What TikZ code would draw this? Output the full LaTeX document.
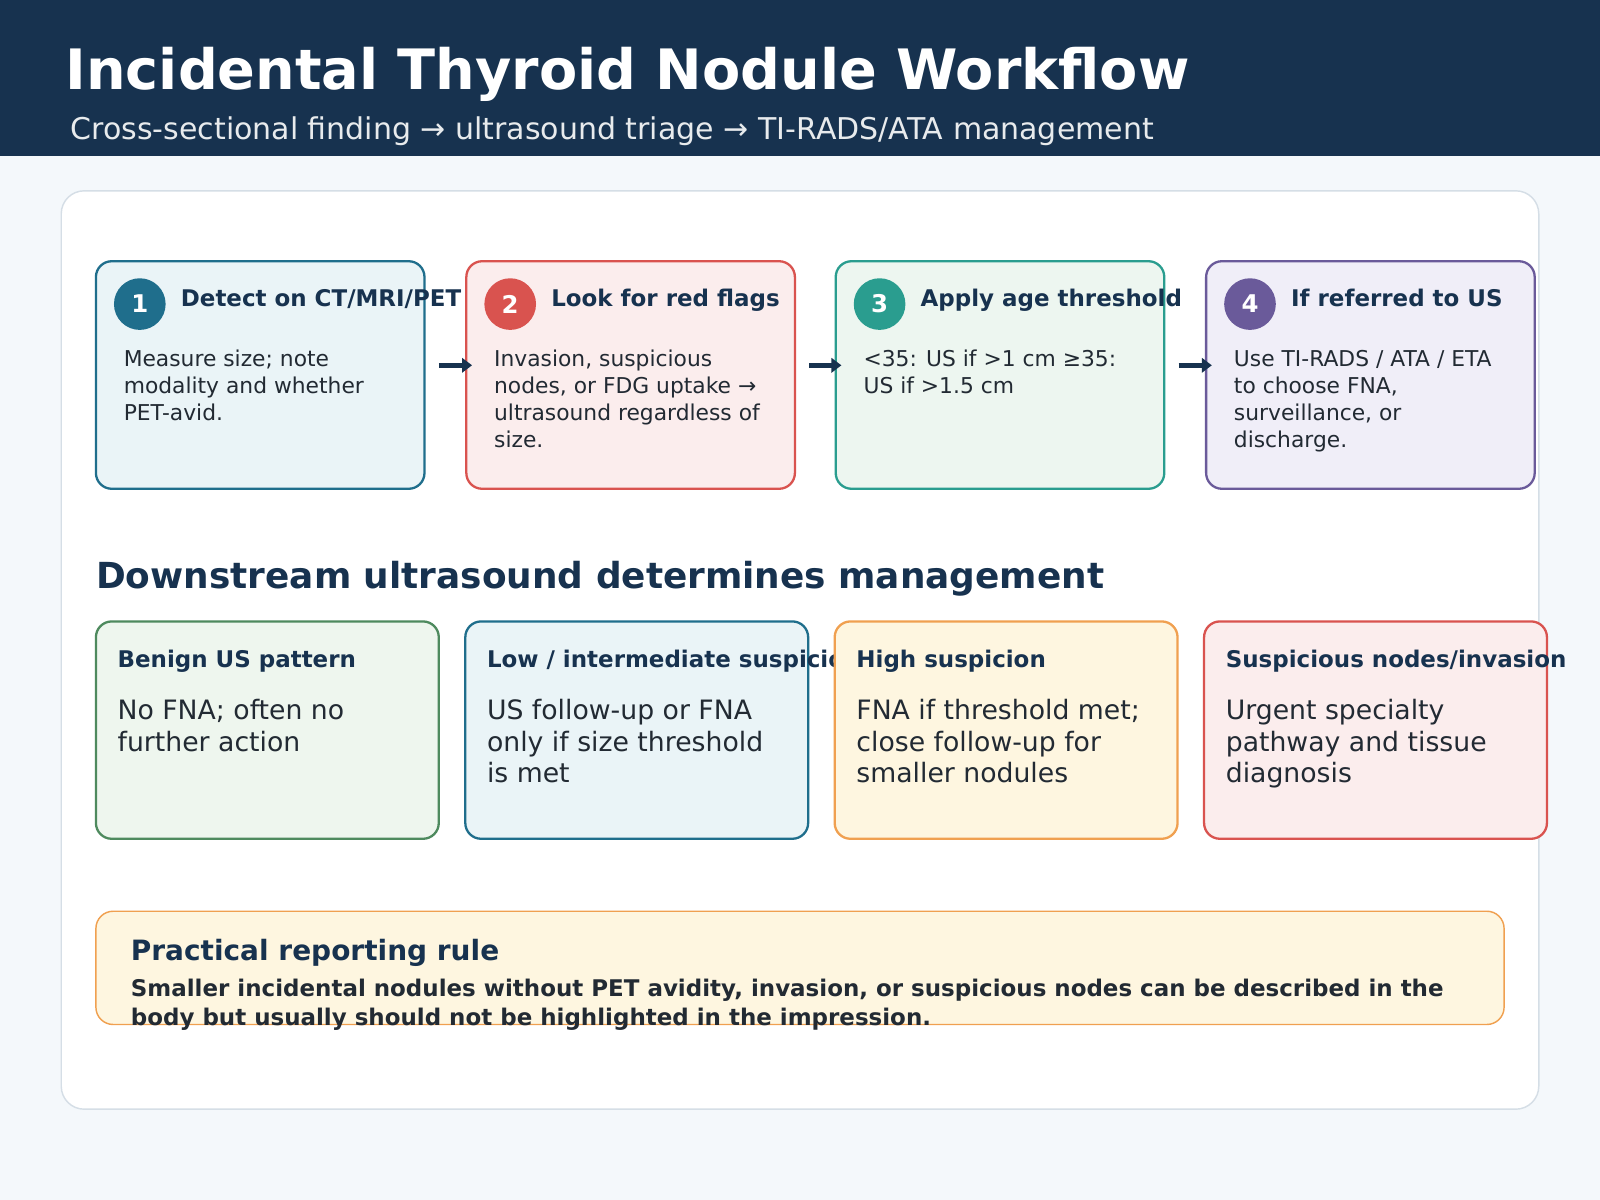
\documentclass[tikz,border=0pt]{standalone}
\usepackage{fontspec}
\setmainfont{DejaVu Sans}
\usetikzlibrary{positioning}
\usetikzlibrary{arrows.meta}
\definecolor{navy}{HTML}{17324F}
\definecolor{pagebg}{HTML}{F4F8FB}
\definecolor{panelline}{HTML}{D5DEE6}
\definecolor{ink}{HTML}{222A33}
\definecolor{cblue}{HTML}{1F6E8C}\definecolor{fblue}{HTML}{EAF4F7}
\definecolor{cred}{HTML}{D9534F}\definecolor{fred}{HTML}{FBEDED}
\definecolor{cteal}{HTML}{2A9D8F}\definecolor{fteal}{HTML}{EDF6F0}
\definecolor{cpurple}{HTML}{6A5A9A}\definecolor{fpurple}{HTML}{F0EEF8}
\definecolor{cgreen}{HTML}{4E8A5E}\definecolor{fgreen}{HTML}{EEF6EE}
\definecolor{corange}{HTML}{F0A050}\definecolor{forange}{HTML}{FEF6E0}
\tikzset{
  card/.style={draw=#1, line width=1.6pt, rounded corners=11pt, inner sep=0pt},
  badge/.style={circle, fill=#1, minimum size=36pt, inner sep=0pt, text=white, font=\bfseries\fontsize{17}{20}\selectfont},
  steptitle/.style={anchor=base west, inner sep=0pt, text=navy, font=\bfseries\fontsize{16}{19}\selectfont},
  stepbody/.style={anchor=north west, inner sep=0pt, align=left, text=ink, font=\fontsize{15.2}{18.8}\selectfont},
  outtitle/.style={anchor=base west, inner sep=0pt, text=navy, font=\bfseries\fontsize{16}{19}\selectfont},
  outbody/.style={anchor=north west, inner sep=0pt, align=left, text=ink, font=\fontsize{18.6}{22}\selectfont},
  flow/.style={-{Triangle[length=7pt,width=10pt]}, line width=3.5pt, draw=navy}
}
\begin{document}
\begin{tikzpicture}[x=0.025cm, y=-0.025cm]
  \useasboundingbox (0,0) rectangle (1568,1176);
  \fill[pagebg] (0,0) rectangle (1568,1176);
  \fill[navy] (0,0) rectangle (1568,153);
  \node[anchor=base west, inner sep=0pt, text=white, font=\bfseries\fontsize{38.8}{42}\selectfont] (title) at (64,88) {Incidental Thyroid Nodule Workflow};
  \node[anchor=base west, inner sep=0pt, text=white!90!navy, font=\fontsize{20.9}{24}\selectfont] (subtitle) at (69,137) {Cross-sectional finding → ultrasound triage → TI-RADS/ATA management};
  \draw[panelline, fill=white, line width=1pt, rounded corners=16pt] (60,187) rectangle (1508,1087);

  % steps
  \foreach \i/\x/\c/\f/\ttl/\txt in {
    1/94/cblue/fblue/{Detect on CT/MRI/PET}/{Measure size; note\\modality and whether\\PET-avid.},
    2/457/cred/fred/{Look for red flags}/{Invasion, suspicious\\nodes, or FDG uptake →\\ultrasound regardless of\\size.},
    3/819/cteal/fteal/{Apply age threshold}/{<35: US if >1 cm ≥35:\\US if >1.5 cm},
    4/1182/cpurple/fpurple/{If referred to US}/{Use TI-RADS / ATA / ETA\\to choose FNA,\\surveillance, or\\discharge.}} {
    \draw[card=\c, fill=\f] (\x,256) rectangle ++(322,223);
    \coordinate (step\i-w) at (\x,358);
    \coordinate (step\i-e) at (\x+322,358);
    \node[badge=\c] (badge\i) at (\x+43,298) {\i};
    \node[steptitle] (steptitle\i) at (\x+83,300) {\ttl};
    \node[stepbody] (stepbody\i) at (\x+27,343) {\txt};
  }
  \foreach \a/\b in {1/2,2/3,3/4}
    \draw[flow] ([xshift=10]step\a-e) -- ([xshift=4]step\b-w);

  \node[anchor=base west, inner sep=0pt, text=navy, font=\bfseries\fontsize{25}{29}\selectfont] (downstream) at (94,577) {Downstream ultrasound determines management};

  % outcomes
  \foreach \i/\x/\c/\f/\ttl/\txt in {
    1/94/cgreen/fgreen/{Benign US pattern}/{No FNA; often no\\further action},
    2/456/cblue/fblue/{Low / intermediate suspicion}/{US follow-up or FNA\\only if size threshold\\is met},
    3/818/corange/forange/{High suspicion}/{FNA if threshold met;\\close follow-up for\\smaller nodules},
    4/1180/cred/fred/{Suspicious nodes/invasion}/{Urgent specialty\\pathway and tissue\\diagnosis}} {
    \draw[card=\c, fill=\f] (\x,609) rectangle ++(336,213);
    \node[outtitle] (outtitle\i) at (\x+21,654) {\ttl};
    \node[outbody] (outbody\i) at (\x+21,685) {\txt};
  }

  % rule
  \draw[corange, fill=forange, line width=1pt, rounded corners=12pt] (94,893) rectangle (1474,1004);
  \node[anchor=base west, inner sep=0pt, text=navy, font=\bfseries\fontsize{19.5}{23}\selectfont] (ruletitle) at (128,941) {Practical reporting rule};
  \node[anchor=north west, inner sep=0pt, align=left, text=ink, font=\bfseries\fontsize{16}{20}\selectfont] (ruletext) at (128,959) {Smaller incidental nodules without PET avidity, invasion, or suspicious nodes can be described in the\\body but usually should not be highlighted in the impression.};
\end{tikzpicture}
\end{document}
